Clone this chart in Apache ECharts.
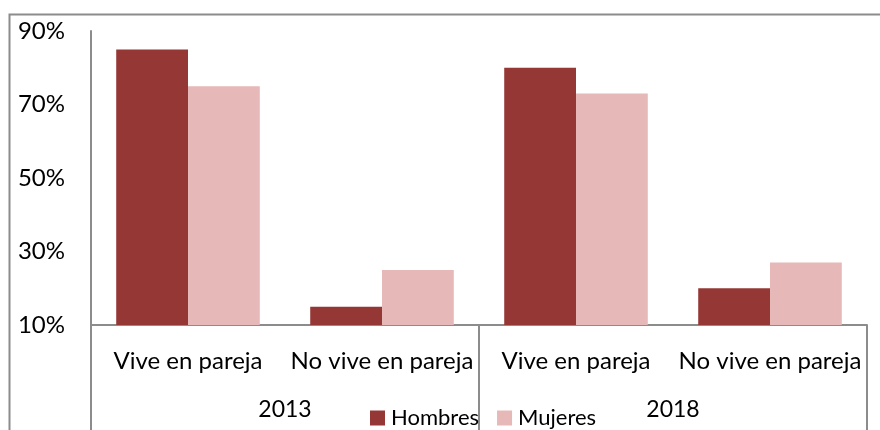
<!DOCTYPE html>
<head>
    <meta charset="utf-8">
    <script src="https://cdn.jsdelivr.net/npm/echarts@6/dist/echarts.min.js"></script>
    <title>Vive en pareja</title>
    <style>
        body { margin: 0; background: #fff; }
        #main { width: 880px; height: 430px; }
    </style>
</head>

<body>
    <div id="main"></div>
    <script type="text/javascript">
        // datos
        var categories = ['Vive en pareja', 'No vive en pareja', 'Vive en pareja', 'No vive en pareja'];
        var years = ['2013', '2018'];
        var hombres = [85, 15, 80, 20];
        var mujeres = [75, 25, 73, 27];
        var yTicks = [10, 30, 50, 70, 90];

        var font = 'Lato';
        var myChart = echarts.init(document.getElementById('main'));

        option = {
            animation: false,
            textStyle: { fontFamily: font },
            graphic: [{
                type: 'rect',
                shape: { x: 9.5, y: 14.5, width: 900, height: 500 },
                style: { fill: 'none', stroke: '#8c8c8c', lineWidth: 2 },
                z: -1
            }],
            grid: { left: 91, right: 13, top: 31, bottom: 105 },
            legend: {
                left: 370,
                top: 407,
                padding: 0,
                itemWidth: 15,
                itemHeight: 15,
                itemGap: 18,
                icon: 'rect',
                textStyle: { fontFamily: font, fontSize: 22, color: '#000', padding: [0, 0, 0, 1] },
                data: ['Hombres', 'Mujeres']
            },
            xAxis: [{
                type: 'category',
                data: categories,
                axisLine: { lineStyle: { color: '#8c8c8c', width: 2 } },
                axisTick: { show: false },
                axisLabel: { color: '#000', fontSize: 24, fontFamily: font, margin: 24, interval: 0 }
            }, {
                type: 'category',
                data: years,
                position: 'bottom',
                axisLine: { show: false },
                axisTick: { show: true, length: 110, lineStyle: { color: '#8c8c8c', width: 2 } },
                axisLabel: { color: '#000', fontSize: 23, fontFamily: font, margin: 73 }
            }],
            yAxis: {
                type: 'value',
                min: yTicks[0],
                max: yTicks[yTicks.length - 1],
                interval: 20,
                splitLine: { show: false },
                axisTick: { show: false },
                axisLine: { show: true, lineStyle: { color: '#8c8c8c', width: 2 } },
                axisLabel: {
                    color: '#000', fontSize: 24, fontFamily: font, margin: 26,
                    formatter: '{value}%'
                }
            },
            series: [{
                name: 'Hombres',
                type: 'bar',
                data: hombres,
                barGap: '0%',
                barCategoryGap: '26%',
                itemStyle: { color: '#953735' }
            }, {
                name: 'Mujeres',
                type: 'bar',
                data: mujeres,
                itemStyle: { color: '#e6b9b8' }
            }]
        };

        myChart.setOption(option);
    </script>
</body>
